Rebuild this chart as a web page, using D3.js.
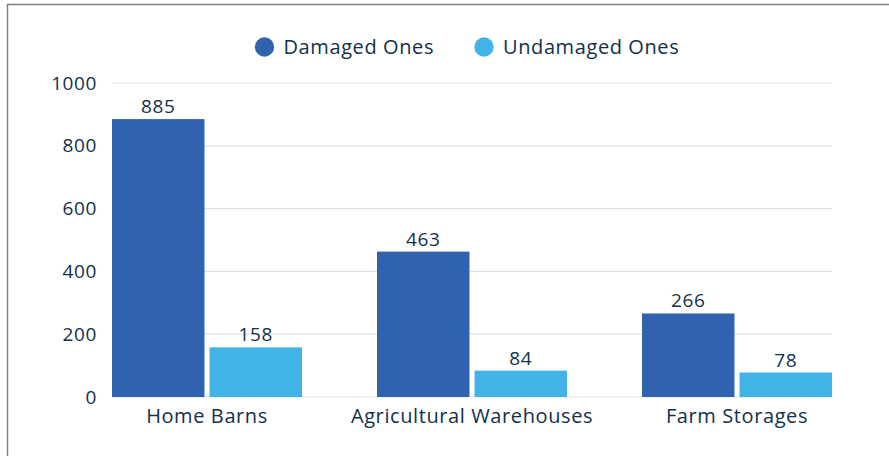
<!DOCTYPE html>
<html>
<head>
<meta charset="utf-8">
<script src="https://cdn.jsdelivr.net/npm/d3@7"></script>
<style>
  body { margin: 0; background: #fff; }
  svg text { font-family: "Open Sans", sans-serif; font-weight: 500; fill: #13304a; letter-spacing: 0.6px; }
</style>
</head>
<body>
<script>
// chart values
var categories = ["Home Barns", "Agricultural Warehouses", "Farm Storages"];
var seriesNames = ["Damaged Ones", "Undamaged Ones"];
var damaged = [885, 463, 266];
var undamaged = [158, 84, 78];
var yTicks = [0, 200, 400, 600, 800, 1000];
var colors = ["#3162af", "#41b3e7"];

var w = 889, h = 456;
var svg = d3.select("body").append("svg")
    .attr("width", w)
    .attr("height", h);

// frame lines (top and left only)
svg.append("line").attr("x1", 7).attr("y1", 4.5).attr("x2", w).attr("y2", 4.5)
   .attr("stroke", "#808080").attr("stroke-width", 1.5);
svg.append("line").attr("x1", 7.5).attr("y1", 4).attr("x2", 7.5).attr("y2", h)
   .attr("stroke", "#808080").attr("stroke-width", 1.5);

var plotLeft = 112, plotRight = 832, plotTop = 83, plotBottom = 397;

var y = d3.scaleLinear().domain([0, 1000]).range([plotBottom, plotTop]);
var x0 = d3.scaleBand().domain(categories).range([plotLeft, plotRight])
    .paddingInner(0.283).paddingOuter(0);
var x1 = d3.scaleBand().domain(seriesNames).range([0, x0.bandwidth()])
    .paddingInner(0.052);

// gridlines
svg.append("g").selectAll("line").data(yTicks).enter().append("line")
  .attr("x1", plotLeft).attr("x2", plotRight)
  .attr("y1", function(d) { return y(d); })
  .attr("y2", function(d) { return y(d); })
  .attr("stroke", "#dde4ec").attr("stroke-width", 1.2);

// y axis labels
var yAxis = d3.axisLeft(y).tickValues(yTicks).tickFormat(d3.format("d"))
    .tickSize(0).tickPadding(0);
var ya = svg.append("g").attr("transform", "translate(97,0)").call(yAxis);
ya.select(".domain").remove();
ya.selectAll("text").style("font-size", "19px").attr("fill", "#13304a");

// x axis labels
var xAxis = d3.axisBottom(x0).tickSize(0).tickPadding(0);
var xa = svg.append("g").attr("transform", "translate(0,409)").call(xAxis);
xa.select(".domain").remove();
xa.selectAll("text").style("font-size", "20px").attr("fill", "#13304a").attr("dy", "0.71em");

var rows = categories.map(function(c, i) {
  return { cat: c, vals: [damaged[i], undamaged[i]] };
});

var groups = svg.append("g").selectAll("g").data(rows).enter().append("g")
  .attr("transform", function(d) { return "translate(" + x0(d.cat) + ",0)"; });

groups.selectAll("rect")
  .data(function(d) { return d.vals.map(function(v, j) { return { name: seriesNames[j], value: v, j: j }; }); })
  .enter().append("rect")
    .attr("x", function(d) { return x1(d.name); })
    .attr("y", function(d) { return y(d.value); })
    .attr("width", x1.bandwidth())
    .attr("height", function(d) { return plotBottom - y(d.value); })
    .attr("fill", function(d) { return colors[d.j]; });

groups.selectAll("text.val")
  .data(function(d) { return d.vals.map(function(v, j) { return { name: seriesNames[j], value: v }; }); })
  .enter().append("text")
    .attr("class", "val")
    .attr("x", function(d) { return x1(d.name) + x1.bandwidth() / 2; })
    .attr("y", function(d) { return y(d.value) - 6; })
    .attr("text-anchor", "middle")
    .style("font-size", "19px")
    .text(function(d) { return d.value; });

// legend
var legendX = [264.5, 484];
var legend = svg.append("g").selectAll("g").data(seriesNames).enter().append("g")
  .attr("transform", function(d, i) { return "translate(" + legendX[i] + ",47)"; });
legend.append("circle").attr("r", 9.7).attr("fill", function(d, i) { return colors[i]; });
legend.append("text").attr("x", 19).attr("dy", "0.35em")
  .style("font-size", "20px")
  .text(function(d) { return d; });
</script>
</body>
</html>
